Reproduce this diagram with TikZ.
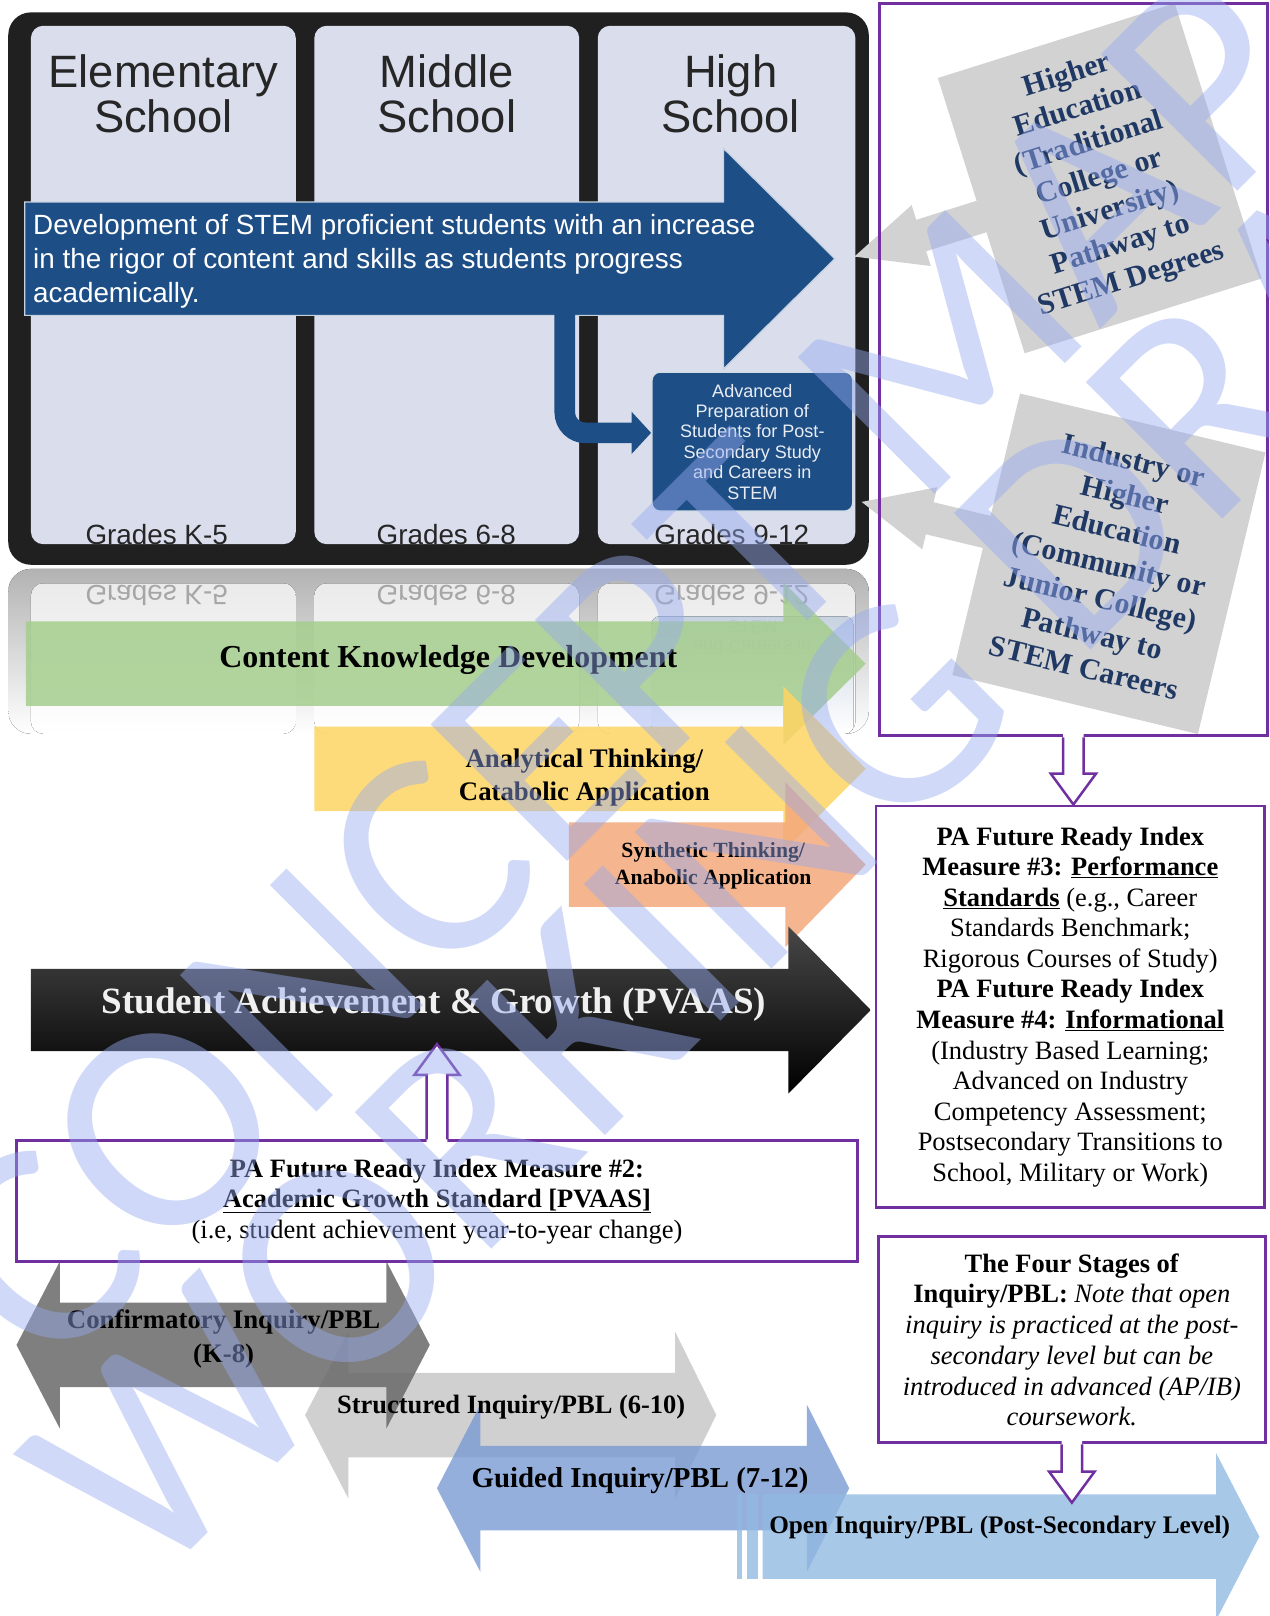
\documentclass[tikz,border=0pt]{standalone}
\usepackage{fontspec}
\setmainfont{Liberation Serif}
\setsansfont{Liberation Sans}
\newfontfamily\wmfont{Carlito}
\usetikzlibrary{arrows.meta, positioning, calc}

\definecolor{framegray}{RGB}{32,32,32}
\definecolor{panelblue}{RGB}{217,221,236}
\definecolor{stemblue}{RGB}{30,78,134}
\definecolor{titlegray}{RGB}{38,38,38}
\definecolor{ckgreen}{RGB}{165,205,141}
\definecolor{atyellow}{RGB}{254,213,99}
\definecolor{storange}{RGB}{243,168,122}
\definecolor{purp}{RGB}{112,48,160}
\definecolor{sqgray}{RGB}{210,210,210}
\definecolor{navy}{RGB}{31,56,100}
\definecolor{confgray}{RGB}{105,105,105}
\definecolor{strgray}{RGB}{200,200,200}
\definecolor{guidblue}{RGB}{122,155,212}
\definecolor{openblue}{RGB}{146,186,226}
\definecolor{wmblue}{RGB}{150,170,240}

\newcommand{\blockarrow}[7]{\path[#1] (#2,#5-#6) -- (#3,#5-#6) -- (#3,#5-#7) -- (#4,#5) -- (#3,#5+#7) -- (#3,#5+#6) -- (#2,#5+#6) -- cycle;}
\newcommand{\dblarrow}[8]{\path[#1] (#2,#6) -- (#3,#6-#8) -- (#3,#6-#7) -- (#4,#6-#7) -- (#4,#6-#8) -- (#5,#6) -- (#4,#6+#8) -- (#4,#6+#7) -- (#3,#6+#7) -- (#3,#6+#8) -- cycle;}
\newcommand{\hollowarrow}[3]{%
  \fill[white] ($(#1)+(-10,#3/10)$) -- ($(#2)+(-10,#3)$) -- ($(#2)+(-22,#3)$) -- (#2) -- ($(#2)+(22,#3)$) -- ($(#2)+(10,#3)$) -- ($(#1)+(10,#3/10)$) -- cycle;
  \draw[hollow] ($(#1)+(-10,0)$) -- ($(#2)+(-10,#3)$) -- ($(#2)+(-22,#3)$) -- (#2) -- ($(#2)+(22,#3)$) -- ($(#2)+(10,#3)$) -- ($(#1)+(10,0)$);}

\begin{document}
\begin{tikzpicture}[x=1pt, y=-1pt,
  panel/.style={fill=panelblue, rounded corners=12pt, minimum width=257pt, minimum height=503pt, inner sep=0pt},
  school/.style={text=titlegray, align=center, font=\sffamily\fontsize{44}{43}\selectfont},
  grade/.style={text=titlegray, font=\sffamily\fontsize{27}{30}\selectfont, inner sep=0pt},
  lbl/.style={align=center, inner sep=0pt},
  pbox/.style={draw=purp, line width=2.8pt, fill=white, align=center, inner sep=0pt, font=\fontsize{25.7}{29.6}\selectfont},
  greysq/.style={fill=sqgray, text=navy, align=center, inner sep=0pt, font=\bfseries\fontsize{29}{34.5}\selectfont},
  greyarr/.style={fill=sqgray},
  hollow/.style={draw=purp, line width=2.4pt},
  wm/.style={text=wmblue, text opacity=.45, inner sep=0pt, font=\wmfont\fontsize{292}{292}\selectfont}]

\useasboundingbox (0,0) rectangle (1232,1568);

\node[fill=framegray, rounded corners=22pt, minimum width=835pt, minimum height=536pt, inner sep=0pt] (frame) at (425.5,280) {};
\node[panel] (elem) at (158.5,276.5) {};
\node[panel] (mid) at (433.5,276.5) {};
\node[panel, minimum width=250pt] (high) at (705,276.5) {};
\node[school] (elemT) at (158.5,91) {Elementary\\School};
\node[school] (midT) at (433.5,91) {Middle\\School};
\node[school] (highT) at (709,91) {High\\School};
\node[grade] (gK) at (152,519) {Grades K-5};
\node[grade] (gM) at (433,519) {Grades 6-8};
\node[grade] (gH) at (710,519) {Grades 9-12};
\fill[framegray] (30,529) rectangle (830,536);

\blockarrow{fill=stemblue, draw=white!75!stemblue, line width=1.2pt}{24}{702}{810}{251}{55}{107}
\node[lbl, anchor=west, align=left, text=white, font=\sffamily\fontsize{27}{33}\selectfont] (dev) at (32,254) {Development of STEM proficient students with an increase\\in the rigor of content and skills as students progress\\academically.};
\node[fill=stemblue, draw=white!80!stemblue, line width=1.5pt, rounded corners=8pt, minimum width=195pt, minimum height=135pt, inner sep=0pt, align=center, text=white!90!stemblue, font=\sffamily\fontsize{17.5}{19.8}\selectfont] (adv) at (730,428.5) {Advanced\\Preparation of\\Students for Post-\\Secondary Study\\and Careers in\\STEM};
\draw[line width=20pt, stemblue, rounded corners=20pt, -{Triangle[length=19pt,width=40pt]}] (548,302) |- ([yshift=8.5pt]adv.west);

\fill[top color=black!30, bottom color=white, rounded corners=22pt] (8,552) rectangle (843,712);
\fill[top color=black!8, bottom color=white, rounded corners=12pt] (30,566) rectangle (287,712);
\fill[top color=black!8, bottom color=white, rounded corners=12pt] (305,566) rectangle (562,712);
\fill[top color=black!8, bottom color=white, rounded corners=12pt] (580,566) rectangle (830,712);
\fill[top color=stemblue!25, bottom color=white, rounded corners=8pt] (632,598) rectangle (828,712);
\node[grade, text=black!35, yscale=-1] (rK) at (152,578) {Grades K-5};
\node[grade, text=black!35, yscale=-1] (rM) at (433,578) {Grades 6-8};
\node[grade, text=black!35, yscale=-1] (rH) at (710,578) {Grades 9-12};
\node[lbl, text=white!70!stemblue, yscale=-1, font=\sffamily\fontsize{17.5}{19.8}\selectfont] (rS) at (730,618) {and Careers in\\STEM};

\begin{scope}[shift={(829,249)}, rotate=17.5]
\fill[greyarr] (0,0) -- (68,-31) -- (68,-16) -- (230,-16) -- (230,16) -- (68,16) -- (68,31) -- cycle;
\end{scope}
\begin{scope}[shift={(836,487)}, rotate=-13.5]
\fill[greyarr] (0,0) -- (68,-31) -- (68,-16) -- (230,-16) -- (230,16) -- (68,16) -- (68,31) -- cycle;
\end{scope}
\node[greysq, rotate=17.5, minimum width=241pt, minimum height=280pt] (hied) at (1067,173) {Higher\\Education\\(Traditional\\College or\\University)\\Pathway to\\STEM Degrees};
\node[greysq, rotate=-13.5, minimum width=245pt, minimum height=281pt] (comm) at (1076,547) {Industry or\\Higher\\Education\\(Community or\\Junior College)\\Pathway to\\STEM Careers};
\node[draw=purp, line width=2.8pt, minimum width=377pt, minimum height=711pt, inner sep=0pt] (rbox) at (1041.5,358.5) {};

\blockarrow{fill=ckgreen, fill opacity=.85}{25}{760}{840}{644}{41}{79}
\blockarrow{fill=atyellow, fill opacity=.85}{305}{760}{840}{746}{41}{80}
\blockarrow{fill=storange, fill opacity=.85}{552}{762}{840}{839}{41}{80}
\blockarrow{top color=black!72, bottom color=black}{30}{765}{845}{980}{40}{81}
\node[lbl, font=\bfseries\fontsize{31}{36}\selectfont] (ckd) at (435,640) {Content Knowledge Development};
\node[lbl, font=\bfseries\fontsize{26}{32}\selectfont] (atc) at (567,754) {Analytical Thinking/\\Catabolic Application};
\node[lbl, font=\bfseries\fontsize{21}{27}\selectfont] (syn) at (692,840) {Synthetic Thinking/\\Anabolic Application};
\node[lbl, text=white!94!black, font=\bfseries\fontsize{36}{40}\selectfont] (sag) at (421,975) {Student Achievement \& Growth (PVAAS)};

\dblarrow{fill=strgray, fill opacity=.85}{296}{338}{655}{695}{1373}{41}{81}
\dblarrow{fill=confgray, fill opacity=.85}{16}{58}{375}{417}{1305}{41}{81}
\dblarrow{fill=guidblue, fill opacity=.8}{424}{466}{783}{824}{1444}{41}{81}
\fill[openblue, fill opacity=.8] (715,1450) rectangle (720,1532);
\fill[openblue, fill opacity=.8] (725,1450) rectangle (735,1532);
\blockarrow{fill=openblue, fill opacity=.8}{740}{1180}{1222}{1491}{41}{81}
\node[lbl, font=\bfseries\fontsize{26}{33}\selectfont] (conf) at (217,1299) {Confirmatory Inquiry/PBL\\(K-8)};
\node[lbl, font=\bfseries\fontsize{25.7}{30}\selectfont] (str) at (496,1365) {Structured Inquiry/PBL (6-10)};
\node[lbl, font=\bfseries\fontsize{28}{32}\selectfont] (gui) at (621,1437) {Guided Inquiry/PBL (7-12)};
\node[lbl, font=\bfseries\fontsize{24.5}{30}\selectfont] (opn) at (970,1482) {Open Inquiry/PBL (Post-Secondary Level)};

\node[pbox, minimum width=377pt, minimum height=390pt] (m3) at (1038.5,977) {\textbf{PA Future Ready Index}\\\textbf{Measure \#3: \underline{Performance}}\\\underline{\textbf{Standards}} (e.g., Career\\Standards Benchmark;\\Rigorous Courses of Study)\\\textbf{PA Future Ready Index}\\\textbf{Measure \#4: \underline{Informational}}\\(Industry Based Learning;\\Advanced on Industry\\Competency Assessment;\\Postsecondary Transitions to\\School, Military or Work)};
\node[pbox, minimum width=376pt, minimum height=200pt, font=\fontsize{25.7}{29.8}\selectfont] (m4) at (1040,1300) {\textbf{The Four Stages of}\\\textbf{Inquiry/PBL:} \textit{Note that open}\\\textit{inquiry is practiced at the post-}\\\textit{secondary level but can be}\\\textit{introduced in advanced (AP/IB)}\\\textit{coursework.}};
\node[pbox, minimum width=816pt, minimum height=117pt] (m2) at (424,1165.5) {\textbf{PA Future Ready Index Measure \#2:}\\\underline{\textbf{Academic Growth Standard [PVAAS]}}\\(i.e, student achievement year-to-year change)};

\coordinate (a1s) at (rbox.south);
\coordinate (a1t) at (rbox.south |- m3.north);
\coordinate (a2s) at (m2.north);
\coordinate (a2t) at (424,1013);
\coordinate (a3s) at (m4.south);
\coordinate (a3t) at (1040,1458);
\hollowarrow{a1s}{a1t}{-30}
\hollowarrow{a2s}{a2t}{30}
\hollowarrow{a3s}{a3t}{-30}

\node[wm, rotate=45] (wm1) at (604,650) {CONCEPT MAP};
\node[wm, rotate=45] (wm2) at (805,752) {WORKING DRAFT};
\end{tikzpicture}
\end{document}
